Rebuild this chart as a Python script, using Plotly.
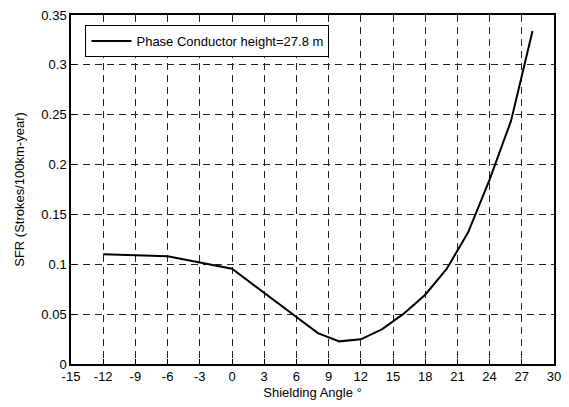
import plotly.graph_objects as go

angle = [-12, -6, 0, 8, 10, 12, 14, 16, 18, 20, 22, 24, 26, 28]
sfr = [0.110, 0.108, 0.0955, 0.031, 0.0227, 0.0247, 0.035, 0.0505, 0.0695,
       0.0953, 0.132, 0.185, 0.244, 0.334]
series_name = "Phase Conductor height=27.8 m"
x_ticks = list(range(-15, 31, 3))
x_labels = [str(v) for v in x_ticks]  # hyphen-minus like the reference
y_ticks = [0, 0.05, 0.1, 0.15, 0.2, 0.25, 0.3, 0.35]
y_labels = ["0", "0.05", "0.1", "0.15", "0.2", "0.25", "0.3", "0.35"]

fig = go.Figure()
fig.add_trace(go.Scatter(x=angle, y=sfr, mode="lines", name=series_name,
                         line=dict(color="black", width=2)))

font = dict(family="Liberation Sans, Arial, sans-serif", size=13, color="black")
axis_common = dict(
    showline=True, mirror=True, linecolor="black", linewidth=1.5,
    ticks="inside", ticklen=5, tickcolor="black",
    showgrid=True, gridcolor="#222222", gridwidth=1, griddash="7px,5px",
    zeroline=False, tickfont=font, automargin=False,
)
fig.update_xaxes(range=[-15, 30], tickvals=x_ticks, ticktext=x_labels,
                 title=dict(text="Shielding Angle °", font=font, standoff=5),
                 **axis_common)
fig.update_yaxes(range=[0, 0.35], tickvals=y_ticks, ticktext=y_labels,
                 title=dict(text="SFR (Strokes/100km-year)", font=font, standoff=14),
                 **axis_common)

fig.update_layout(
    width=569, height=407,
    margin=dict(l=71, r=15, t=15, b=43),
    plot_bgcolor="white", paper_bgcolor="white",
    font=font,
    showlegend=True,
    legend=dict(x=0.03, y=0.971, xanchor="left", yanchor="top",
                bgcolor="white", bordercolor="black", borderwidth=1,
                font=font, tracegroupgap=0, itemwidth=40),
)

fig.write_html("out.html")
